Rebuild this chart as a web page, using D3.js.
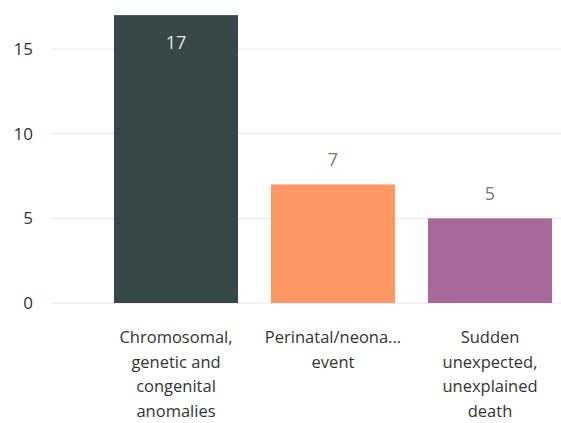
<!DOCTYPE html>
<html>
<head>
<meta charset="utf-8">
<script src="https://d3js.org/d3.v7.min.js"></script>
<style>
  body { margin: 0; background: #fff; }
  svg { display: block; font-family: "Open Sans", "Noto Sans", sans-serif; }
</style>
</head>
<body>
<svg width="561" height="423"></svg>
<script>
var categories = [
  ["Chromosomal,", "genetic and", "congenital", "anomalies"],
  ["Perinatal/neona...", "event"],
  ["Sudden", "unexpected,", "unexplained", "death"]
];
var values = [17, 7, 5];
var colors = ["#374649", "#FE9666", "#A66999"];
var yTicks = [0, 5, 10, 15];

var svg = d3.select("svg"),
  width = +svg.attr("width"),
  height = +svg.attr("height");

var x = d3.scaleBand()
  .domain(d3.range(values.length))
  .range([97.5, 568.5])
  .paddingInner(0.21)
  .paddingOuter(0.105);

var y = d3.scaleLinear()
  .domain([0, 15])
  .range([303, 49]);

// gridlines
svg.append("g")
  .selectAll("line")
  .data(yTicks)
  .enter().append("line")
  .attr("x1", 51)
  .attr("x2", width)
  .attr("y1", function (d) { return y(d); })
  .attr("y2", function (d) { return y(d); })
  .attr("stroke", "#e6e6e6")
  .attr("stroke-width", 1);

// y axis labels
var yAxis = d3.axisLeft(y).tickValues(yTicks).tickSize(0).tickPadding(0);
var ya = svg.append("g")
  .attr("transform", "translate(33,0)")
  .call(yAxis);
ya.select(".domain").remove();
ya.selectAll("text")
  .attr("font-size", 17)
  .attr("font-family", "'Open Sans', 'Noto Sans', sans-serif")
  .attr("fill", "#333");

// bars
svg.append("g")
  .selectAll("rect")
  .data(values)
  .enter().append("rect")
  .attr("x", function (d, i) { return x(i); })
  .attr("y", function (d) { return y(d); })
  .attr("width", x.bandwidth())
  .attr("height", function (d) { return y(0) - y(d); })
  .attr("fill", function (d, i) { return colors[i]; });

// value labels
svg.append("g")
  .selectAll("text")
  .data(values)
  .enter().append("text")
  .attr("x", function (d, i) { return x(i) + x.bandwidth() / 2; })
  .attr("y", function (d) { return y(d) > 40 ? y(d) - 18 : y(d) + 34; })
  .attr("text-anchor", "middle")
  .attr("font-size", 18)
  .attr("fill", function (d) { return y(d) > 40 ? "#777" : "#dde3e4"; })
  .text(function (d) { return d; });

// category labels
var cat = svg.append("g")
  .selectAll("text")
  .data(categories)
  .enter().append("text")
  .attr("text-anchor", "middle")
  .attr("font-size", 16.5)
  .attr("fill", "#333");

cat.selectAll("tspan")
  .data(function (d, i) { return d.map(function (t) { return { t: t, i: i }; }); })
  .enter().append("tspan")
  .attr("x", function (d) { return x(d.i) + x.bandwidth() / 2; })
  .attr("y", function (d, j) { return 343 + j * 24.5; })
  .text(function (d) { return d.t; });
</script>
</body>
</html>
